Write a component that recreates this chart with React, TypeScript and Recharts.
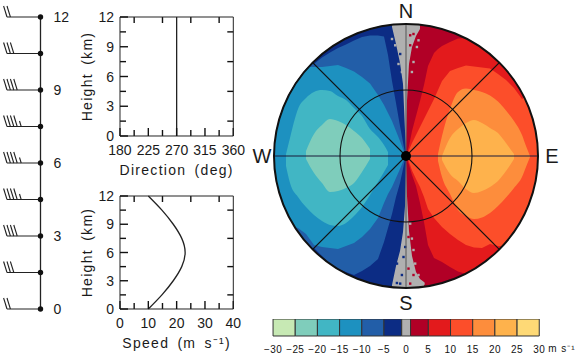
import React from 'react';
import {
  Area, Bar, BarChart, ComposedChart, Label, Line, LineChart, ReferenceDot, ReferenceLine, Scatter, XAxis, YAxis,
} from 'recharts';

const FONT = '"Liberation Sans", Arial, sans-serif';
const INK = '#222';
const PLOT_WIDTH = 113.3;
const MAJOR_TICK = 8;

// profiles against height (km)
const heights = [0, 1.5, 3, 4.5, 6, 7.5, 9, 10.5, 12];
const speeds = [10, 14.8, 18.8, 21.8, 23, 21.8, 18.8, 14.8, 10];
const directions = [270, 270, 270, 270, 270, 270, 270, 270, 270];
const barbKnots = [20, 30, 40, 45, 45, 45, 40, 30, 20];

const heightMinor = [1.5, 4.5, 7.5, 10.5];
const heightLabels = [0, 3, 6, 9, 12];
const directionMinor = [202.5, 247.5, 292.5, 337.5];
const directionLabels = [180, 225, 270, 315, 360];
const speedMinor = [5, 15, 25, 35];
const speedLabels = [0, 10, 20, 30, 40];

// colour bar (m/s)
const barEdges = [-30, -25, -20, -15, -10, -5, -1, 1, 5, 10, 15, 20, 25, 30];
const barColors = ['#c7e9b4', '#7fcdbb', '#41b6c4', '#1d91c0', '#225ea8', '#0c2c84', '#b0b0b0', '#b10026', '#e31a1c', '#fc4e2a', '#fd8d3c', '#feb24c', '#fed976'];
const barTicks = [-30, -25, -20, -15, -10, -5, 0, 5, 10, 15, 20, 25, 30];

// velocity field contours: upper and lower edge of each band, x east, y north from the radar
const westX = [-133, -124, -120, -116, -108, -100, -92, -84, -76, -68, -60, -52, -44, -36, -28, -22, -18, -14, -10, -6, -3, -1];
const eastX = [1, 3, 6, 10, 14, 18, 22, 28, 32, 36, 44, 52, 60, 68, 76, 84, 92, 100, 108, 116, 120, 124, 133];
const grayX = [-14, -10, -6, -3, -1, 0, 1, 3, 6, 10, 14, 18];

const west10Top = [133, 124, 120, 116, 108, 100, 92, 98.5, 103.5, 108, 111.5, 115.5, 119, 120.5, 120.5, 119.5, 101, 75, 53, 30, 14, 3];
const west10Bot = [-133, -133, -133, -116, -108, -100, -92, -100, -108, -113, -116, -119, -115, -110, -103, -86, -72, -58, -41, -27, -13, -3];
const west15Top = [100, 100, 100, 100, 100, 89, 89, 89, 90, 91, 88, 84.5, 79, 72.5, 61, 51, 43, 35, 25, 15, 7, 2];
const west15Bot = [-70, -70, -70, -70, -72, -78, -89, -91, -92, -93, -90, -87, -81, -73, -62, -47, -38, -31, -22, -13, -6, -2];
const west20Top = [null, null, 2, 18, 47, 58, 64, 66, 65, 60, 56, 48, 40, 27, 19, 11, 4, null, null, null, null, null];
const west20Bot = [null, null, -10, -27, -41, -51, -59, -65, -69, -70, -67, -60, -51, -39, -26, -16, -9, null, null, null, null, null];
const west25Top = [null, null, null, null, null, 5, 22, 31, 37, 35, 31, 25, 18, 7, null, null, null, null, null, null, null, null];
const west25Bot = [null, null, null, null, null, -3, -17, -27, -36, -35, -32, -27, -16, -3, null, null, null, null, null, null, null, null];

const east10Top = [3, 10, 25, 40, 55, 71, 90, 103, 107, 110, 114, 117.5, 118, 114, 133, 133, 133, 133, 133, 133, 133, 133, 133];
const east10Bot = [-3, -9, -19, -30, -47, -66, -89, -102, -104, -106, -111, -115.5, -118, -133, -133, -133, -133, -133, -133, -133, -133, -133, -133];
const east15Top = [1, 6, 13, 21, 29, 37, 45, 57, 66, 75, 85, 88, 90.5, 89.5, 88.5, 87.5, 82, 76, 68, 57, 60, 60, 60];
const east15Bot = [-1, -6, -14.5, -23, -31, -41, -53, -62, -66.5, -71, -78, -84, -89, -91.5, -92, -88, -90, -90, -100, -100, -100, -100, -100];
const east20Top = [null, null, null, null, null, null, null, null, 2, 20, 47, 64, 67.5, 66, 64, 60.5, 54.5, 45.5, 35, 21, 10, 0, null];
const east20Bot = [null, null, null, null, null, null, null, null, -5, -21, -38, -54, -60, -63, -61.5, -57, -50, -41.5, -32, -21, -11, -1, null];
const east25Top = [null, null, null, null, null, null, null, null, null, 0, 18, 27, 33, 36, 33, 28, 23, 13, 2, null, null, null, null];
const east25Bot = [null, null, null, null, null, null, null, null, null, -4, -18, -25, -33, -37, -35, -31, -25, -15, -3, null, null, null, null];

const grayNorthBot = [129, 112, 93, 72, 25, 4, 55, 92, 109, 120, 127, null];
const grayNorthTop = [133, 133, 133, 133, 133, 133, 133, 133, 133, 133, 133, null];
const graySouthTop = [-129, -110, -95, -76, -50, -4, -40, -75, -100, -116, -123, -126];
const graySouthBot = [-133, -133, -133, -133, -133, -133, -133, -133, -133, -133, -133, -133];

const speckGrayX = [-14, -10.8, -7.5, -4.1, 12.5, 10.9, 7.5, 5.9, 5.9, 9.2, 12.5, 17.5, 7.5, 4.2];
const speckGrayY = [117, 110.7, 92, 84, 115.7, 109, 94, 84, -82.6, -107.6, -119, -127.6, -94, -67.6];
const speckRedX = [4.2, 7.5, 4.2, 2.5, 7.5, 4.2, 2.5];
const speckRedY = [120.7, 122, 110.7, -112.6, -119, -127.6, -81];
const speckBlueX = [-5.8, -9, -4.1, -9.1, -2.5, -0.8, -5.8];
const speckBlueY = [102, -107.6, -119, -127, -101, -91, -127.6];

const spokes = [[-93.3, 93.3], [93.3, 93.3]];
const radar = [{ x: 0, y: 0 }];

const bands = [
  { key: 'w10', color: '#225ea8', xs: westX, top: west10Top, bot: west10Bot, curve: 'linear' },
  { key: 'w15', color: '#1d91c0', xs: westX, top: west15Top, bot: west15Bot, curve: 'linear' },
  { key: 'w20', color: '#41b6c4', xs: westX, top: west20Top, bot: west20Bot, curve: 'monotone' },
  { key: 'w25', color: '#7fcdbb', xs: westX, top: west25Top, bot: west25Bot, curve: 'monotone' },
  { key: 'e10', color: '#e31a1c', xs: eastX, top: east10Top, bot: east10Bot, curve: 'linear' },
  { key: 'e15', color: '#fc4e2a', xs: eastX, top: east15Top, bot: east15Bot, curve: 'linear' },
  { key: 'e20', color: '#fd8d3c', xs: eastX, top: east20Top, bot: east20Bot, curve: 'monotone' },
  { key: 'e25', color: '#feb24c', xs: eastX, top: east25Top, bot: east25Bot, curve: 'monotone' },
  { key: 'grayN', color: '#b0b0b0', xs: grayX, top: grayNorthTop, bot: grayNorthBot, curve: 'linear' },
  { key: 'grayS', color: '#b0b0b0', xs: grayX, top: graySouthTop, bot: graySouthBot, curve: 'linear' },
];

const fieldRows = [...westX, 0, ...eastX].map((x) => {
  const row: any = { x, west5: x <= 0 ? [-133, 133] : null, east5: x >= 0 ? [-133, 133] : null };
  bands.forEach((b) => {
    const i = b.xs.indexOf(x);
    row[b.key] = i >= 0 && b.top[i] !== null ? [b.bot[i], b.top[i]] : null;
  });
  return row;
});

const profileRows = heights.map((h, i) => ({ height: h, speed: speeds[i], direction: directions[i], knots: barbKnots[i], spine: 0 }));
const toSpecks = (xs: number[], ys: number[]) => xs.map((x, i) => ({ x, y: ys[i] }));

const barRow: any = { name: 'scale' };
barColors.forEach((_, i) => { barRow['s' + i] = barEdges[i + 1] - barEdges[i]; });

const textStyle = { fontFamily: FONT, fontSize: 14, fill: '#1a1a1a' };
const axisLabelStyle = { ...textStyle, letterSpacing: 1.3, wordSpacing: 3 };
const tickStyle = { stroke: '#111', strokeWidth: 1.4 };

// negative tickSize: major marks point into the box and the label position moves in with them
const xLabel = (p: any) => (
  <text x={p.x} y={p.y + MAJOR_TICK + 14} dy="0.36em" textAnchor="middle" {...textStyle}>{p.payload.value}</text>
);

const yLabel = (p: any) => (
  <text x={p.x - MAJOR_TICK - 6} y={p.y} dy="0.36em" textAnchor="end" {...textStyle}>{p.payload.value}</text>
);

// shorter minor marks between the labelled values
function minorTicks(xMinor: number[], domain: number[], plotHeight: number) {
  const xLen = 6 * (domain[1] - domain[0]) / PLOT_WIDTH;
  const yLen = 6 * 12 / plotHeight;
  const marks: any[] = [];
  xMinor.forEach((v) => {
    marks.push(<ReferenceLine key={`b${v}`} segment={[{ x: v, y: 0 }, { x: v, y: yLen }]} {...tickStyle} />);
    marks.push(<ReferenceLine key={`t${v}`} segment={[{ x: v, y: 12 }, { x: v, y: 12 - yLen }]} {...tickStyle} />);
  });
  heightMinor.forEach((h) => {
    marks.push(<ReferenceLine key={`l${h}`} segment={[{ x: domain[0], y: h }, { x: domain[0] + xLen, y: h }]} {...tickStyle} />);
    marks.push(<ReferenceLine key={`r${h}`} segment={[{ x: domain[1], y: h }, { x: domain[1] - xLen, y: h }]} {...tickStyle} />);
  });
  return marks;
}

function ProfilePanel({ top, plotHeight, dataKey, domain, minor, labels, title }: any) {
  return (
    <div style={{ position: 'absolute', left: 70, top }}>
      <LineChart
        layout="vertical"
        width={183.3}
        height={17 + plotHeight + 44}
        data={profileRows}
        margin={{ top: 16, right: 19, bottom: 0, left: 0 }}
      >
        <XAxis type="number" dataKey={dataKey} domain={domain} ticks={labels} interval={0} height={44} tickSize={-MAJOR_TICK} tickMargin={0} tickLine={tickStyle} stroke={INK} tick={xLabel}>
          <Label value={title} position="insideBottom" offset={5} style={axisLabelStyle} />
        </XAxis>
        <XAxis xAxisId="top" orientation="top" type="number" dataKey={dataKey} domain={domain} ticks={labels} interval={0} height={1} tickSize={-MAJOR_TICK} tickLine={tickStyle} tick={false} stroke={INK} />
        <YAxis type="number" dataKey="height" reversed domain={[0, 12]} ticks={heightLabels} interval={0} width={50} tickSize={-MAJOR_TICK} tickMargin={0} tickLine={tickStyle} stroke={INK} tick={yLabel}>
          <Label value="Height (km)" angle={-90} position="insideLeft" offset={17} style={{ ...axisLabelStyle, textAnchor: 'middle' }} />
        </YAxis>
        <YAxis yAxisId="right" orientation="right" type="number" dataKey="height" reversed domain={[0, 12]} ticks={heightLabels} interval={0} width={1} tickSize={-MAJOR_TICK} tickLine={tickStyle} tick={false} stroke={INK} />
        {minorTicks(minor, domain, plotHeight)}
        <Line xAxisId="top" yAxisId="right" dataKey={dataKey} stroke="none" dot={false} legendType="none" isAnimationActive={false} />
        <Line dataKey={dataKey} type="natural" stroke={INK} strokeWidth={1.3} dot={false} isAnimationActive={false} />
      </LineChart>
    </div>
  );
}

// shaft to the west, one long feather per 10 kt, a short one for the 5 kt left over
const WindBarb = (p: any) => {
  const { cx, cy, payload } = p;
  const full = Math.floor(payload.knots / 10);
  const half = payload.knots % 10 >= 5;
  const feathers = [];
  for (let i = 0; i < full; i++) {
    const bx = cx - 33.5 + i * 3.4;
    feathers.push(<line key={i} x1={bx} y1={cy} x2={bx - 3.4} y2={cy - 11} />);
  }
  if (half) {
    const bx = cx - 33.5 + full * 3.4 + 0.6;
    feathers.push(<line key="half" x1={bx} y1={cy} x2={bx - 1.7} y2={cy - 5.5} />);
  }
  return (
    <g stroke={INK} strokeWidth={1.1}>
      <line x1={cx} y1={cy} x2={cx - 33.5} y2={cy} />
      {feathers}
      <circle cx={cx} cy={cy} r={2.7} fill="#111" stroke="none" />
    </g>
  );
};

function BarbPanel() {
  return (
    <div style={{ position: 'absolute', left: 0, top: 0 }}>
      <LineChart
        layout="vertical"
        width={82}
        height={325}
        data={profileRows}
        margin={{ top: 17, right: 0, bottom: 16, left: 0 }}
      >
        <XAxis type="number" dataKey="spine" domain={[-40.5, 10]} hide />
        <YAxis
          type="number" dataKey="height" reversed orientation="right" domain={[0, 12]} ticks={heightLabels} interval={0}
          width={31.5} axisLine={false} tickLine={false} tickSize={0} tickMargin={3}
          tick={{ ...textStyle, textAnchor: 'start' }}
        />
        <Line dataKey="spine" stroke={INK} strokeWidth={1.3} dot={<WindBarb />} isAnimationActive={false} />
      </LineChart>
    </div>
  );
}

const speckShape = (color: string) => (p: any) => <rect x={p.cx - 1.2} y={p.cy - 1.2} width={2.4} height={2.4} fill={color} />;

function VelocityField() {
  return (
    <div style={{ position: 'absolute', left: 273.8, top: 23.7, width: 264, height: 264, clipPath: 'circle(132px)' }}>
      <ComposedChart width={264} height={264} data={fieldRows} margin={{ top: 0, right: 0, bottom: 0, left: 0 }}>
        <XAxis type="number" dataKey="x" domain={[-132, 132]} allowDataOverflow hide />
        <YAxis type="number" dataKey="y" domain={[-132, 132]} allowDataOverflow hide />
        <Area dataKey="west5" fill="#0c2c84" fillOpacity={1} stroke="none" connectNulls isAnimationActive={false} />
        <Area dataKey="east5" fill="#b10026" fillOpacity={1} stroke="none" connectNulls isAnimationActive={false} />
        {bands.map((b: any) => (
          <Area key={b.key} dataKey={b.key} type={b.curve} fill={b.color} fillOpacity={1} stroke="none" connectNulls isAnimationActive={false} />
        ))}
        <Scatter data={toSpecks(speckGrayX, speckGrayY)} shape={speckShape('#b0b0b0')} isAnimationActive={false} />
        <Scatter data={toSpecks(speckRedX, speckRedY)} shape={speckShape('#b10026')} isAnimationActive={false} />
        <Scatter data={toSpecks(speckBlueX, speckBlueY)} shape={speckShape('#0c2c84')} isAnimationActive={false} />
      </ComposedChart>
    </div>
  );
}

const compass = (name: string, x: number, y: number) => (
  <ReferenceDot
    key={name} x={x} y={y} r={0} fill="none" stroke="none"
    label={{ value: name, position: 'center', fontFamily: FONT, fontSize: 20, fill: '#1a1a1a' }}
  />
);

function VelocityFrame() {
  return (
    <div style={{ position: 'absolute', left: 241.8, top: -8.3 }}>
      <ComposedChart width={328} height={328} data={radar} margin={{ top: 0, right: 0, bottom: 0, left: 0 }}>
        <XAxis type="number" dataKey="x" domain={[-164, 164]} hide />
        <YAxis type="number" dataKey="y" domain={[-164, 164]} hide />
        <ReferenceLine segment={[{ x: 0, y: 132 }, { x: 0, y: -132 }]} stroke="#555" strokeWidth={1} />
        <ReferenceLine segment={[{ x: -132, y: 0 }, { x: 132, y: 0 }]} stroke="#1a1a3a" strokeWidth={1} />
        {spokes.map(([x, y]) => (
          <ReferenceLine key={x} segment={[{ x, y }, { x: -x, y: -y }]} stroke="#111" strokeWidth={1.2} />
        ))}
        <ReferenceDot x={0} y={0} r={66} fill="none" stroke="#111" strokeWidth={1.1} />
        <ReferenceDot x={0} y={0} r={132} fill="none" stroke="#111" strokeWidth={2} />
        <Scatter data={radar} shape={(p: any) => <circle cx={p.cx} cy={p.cy} r={5} fill="#000" />} isAnimationActive={false} />
        {compass('N', 0, 145)}
        {compass('S', 0, -147)}
        {compass('W', -144, 0)}
        {compass('E', 146, 0)}
      </ComposedChart>
    </div>
  );
}

function ColorBar() {
  return (
    <div style={{ position: 'absolute', left: 260.7, top: 319 }}>
      <BarChart
        layout="vertical"
        width={315.3}
        height={36.7}
        data={[barRow]}
        barCategoryGap={0}
        margin={{ top: 0, right: 37, bottom: 0, left: 12 }}
      >
        <XAxis
          type="number" domain={[0, 60]} ticks={barTicks.map((t) => t + 30)} interval={0} height={20}
          axisLine={false} tickLine={false} tickSize={0} tickMargin={10}
          tickFormatter={(v: number) => String(v - 30).replace('-', '\u2212')}
          tick={{ fontFamily: FONT, fontSize: 10, fill: '#111', letterSpacing: 0.4 }}
        >
          <Label value={'m s\u207B\u00B9'} position="right" offset={9} dy={3} style={{ fontFamily: FONT, fontSize: 10, fill: '#111', letterSpacing: 1 }} />
        </XAxis>
        <YAxis type="category" dataKey="name" hide />
        {barColors.map((c, i) => (
          <Bar key={c} dataKey={'s' + i} stackId="scale" fill={c} stroke="#333" strokeWidth={1} isAnimationActive={false} />
        ))}
      </BarChart>
    </div>
  );
}

export default function App() {
  return (
    <div style={{ position: 'absolute', left: 0, top: 0, width: 576, height: 356, overflow: 'hidden', background: '#fff' }}>
      <BarbPanel />
      <ProfilePanel top={0} plotHeight={119} dataKey="direction" domain={[180, 360]} minor={directionMinor} labels={directionLabels} title="Direction (deg)" />
      <ProfilePanel top={178.7} plotHeight={113} dataKey="speed" domain={[0, 40]} minor={speedMinor} labels={speedLabels} title={'Speed (m s\u207B\u00B9)'} />
      <VelocityField />
      <VelocityFrame />
      <ColorBar />
    </div>
  );
}
